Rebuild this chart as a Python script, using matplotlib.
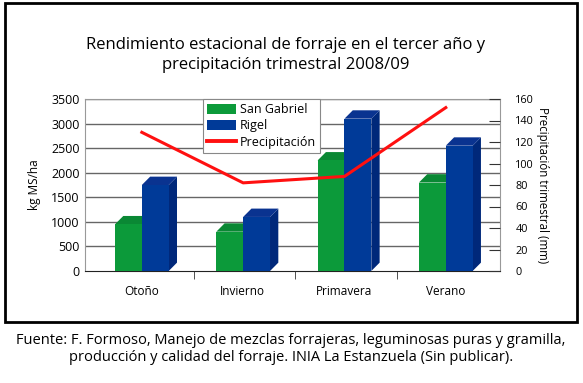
import matplotlib.pyplot as plt
from matplotlib.patches import Polygon, Rectangle, Patch
from matplotlib.lines import Line2D

estaciones = ['Otoño', 'Invierno', 'Primavera', 'Verano']
san_gabriel = [950, 800, 2250, 1800]
rigel = [1750, 1100, 3100, 2550]
precipitacion = [129, 82, 88, 152]

plt.rcParams['font.family'] = ['Open Sans', 'DejaVu Sans']

fig = plt.figure(figsize=(5.83, 3.83), dpi=100)
W, H = 583, 383
ax = fig.add_axes([85 / W, 1 - 271 / H, 415 / W, 172 / H])

verde, verde_lado, verde_top = '#0c9a3a', '#087a2c', '#0a8834'
azul, azul_lado, azul_top = '#003a98', '#00287a', '#0a3390'

ancho = 0.265
dx, dy = 0.082, 170  # profundidad del efecto 3D

for i in range(len(estaciones)):
    for x0, v, c, cl, ct in [(i - 0.28, san_gabriel[i], verde, verde_lado, verde_top),
                             (i - 0.015, rigel[i], azul, azul_lado, azul_top)]:
        # cara lateral y superior
        ax.add_patch(Polygon([(x0 + ancho, 0), (x0 + ancho + dx, dy), (x0 + ancho + dx, v + dy),
                              (x0 + ancho, v)], closed=True, fc=cl, ec='none', zorder=3))
        ax.add_patch(Polygon([(x0, v), (x0 + dx, v + dy), (x0 + ancho + dx, v + dy),
                              (x0 + ancho, v)], closed=True, fc=ct, ec='none', zorder=3))
    ax.bar(i - 0.28, san_gabriel[i], width=ancho, align='edge', color=verde, zorder=4)
    ax.bar(i - 0.015, rigel[i], width=ancho, align='edge', color=azul, zorder=4)

ax.set_xlim(-0.576, 3.52)
ax.set_ylim(0, 3500)
ax.set_yticks(range(0, 3501, 500))
for y in range(500, 3501, 500):
    ax.axhline(y, color='#666666', lw=1, zorder=1)
ax.set_xticks([i - 0.02 for i in range(4)])
ax.set_xticklabels(estaciones, fontsize=8.5)
ax.set_xticks([0.5, 1.5, 2.5], minor=True)
ax.tick_params(axis='x', which='major', length=0, pad=10)
ax.tick_params(axis='x', which='minor', length=6, color='#333333', direction='out')
ax.tick_params(axis='y', length=0, pad=4, labelsize=9)
for s in ['left', 'top', 'right']:
    ax.spines[s].set_color('#999999')
ax.spines['bottom'].set_color('#222222')
ax.set_ylabel('kg MS/ha', fontsize=8.5)
ax.yaxis.set_label_coords(-0.105, 0.5)

ax2 = ax.twinx()
ax2.set_ylim(0, 160)
ax2.set_yticks(range(0, 161, 20))
ax2.tick_params(axis='y', direction='in', length=8, color='#333333', pad=11, labelsize=7.8)
ax2.plot([i - 0.015 for i in range(4)], precipitacion, color='#ff1010', lw=2.2, zorder=5)
ax2.set_ylabel('Precipitación trimestral (mm)', fontsize=8.3, rotation=270, va='bottom')
ax2.yaxis.set_label_coords(1.087, 0.5)
for s in ax2.spines.values():
    s.set_visible(False)

handles = [Patch(fc=verde, ec='none'), Patch(fc=azul, ec='none'),
           Line2D([], [], color='#ff1010', lw=2.8)]
leg = ax2.legend(handles, ['San Gabriel', 'Rigel', 'Precipitación'], loc='upper left',
                 bbox_to_anchor=(0.284, 1.0), fontsize=9, fancybox=False, framealpha=1,
                 edgecolor='#888888', borderaxespad=0, handlelength=2.3, handleheight=0.8,
                 labelspacing=0.25, borderpad=0.35, handletextpad=0.3)
leg.get_frame().set_linewidth(0.8)
leg.set_zorder(10)

fig.text(286 / W, 1 - 55 / H,
         'Rendimiento estacional de forraje en el tercer año y\nprecipitación trimestral 2008/09',
         ha='center', va='center', fontsize=12, linespacing=1.35)
fig.text(291 / W, 1 - 349 / H,
         'Fuente: F. Formoso, Manejo de mezclas forrajeras, leguminosas puras y gramilla,\n'
         'producción y calidad del forraje. INIA La Estanzuela (Sin publicar).',
         ha='center', va='center', fontsize=10.5, linespacing=1.2)
fig.add_artist(Rectangle((5 / W, 1 - 322 / H), 572 / W, 319 / H, transform=fig.transFigure,
                         fill=False, ec='black', lw=2))

fig.savefig('out.png', dpi=100)
